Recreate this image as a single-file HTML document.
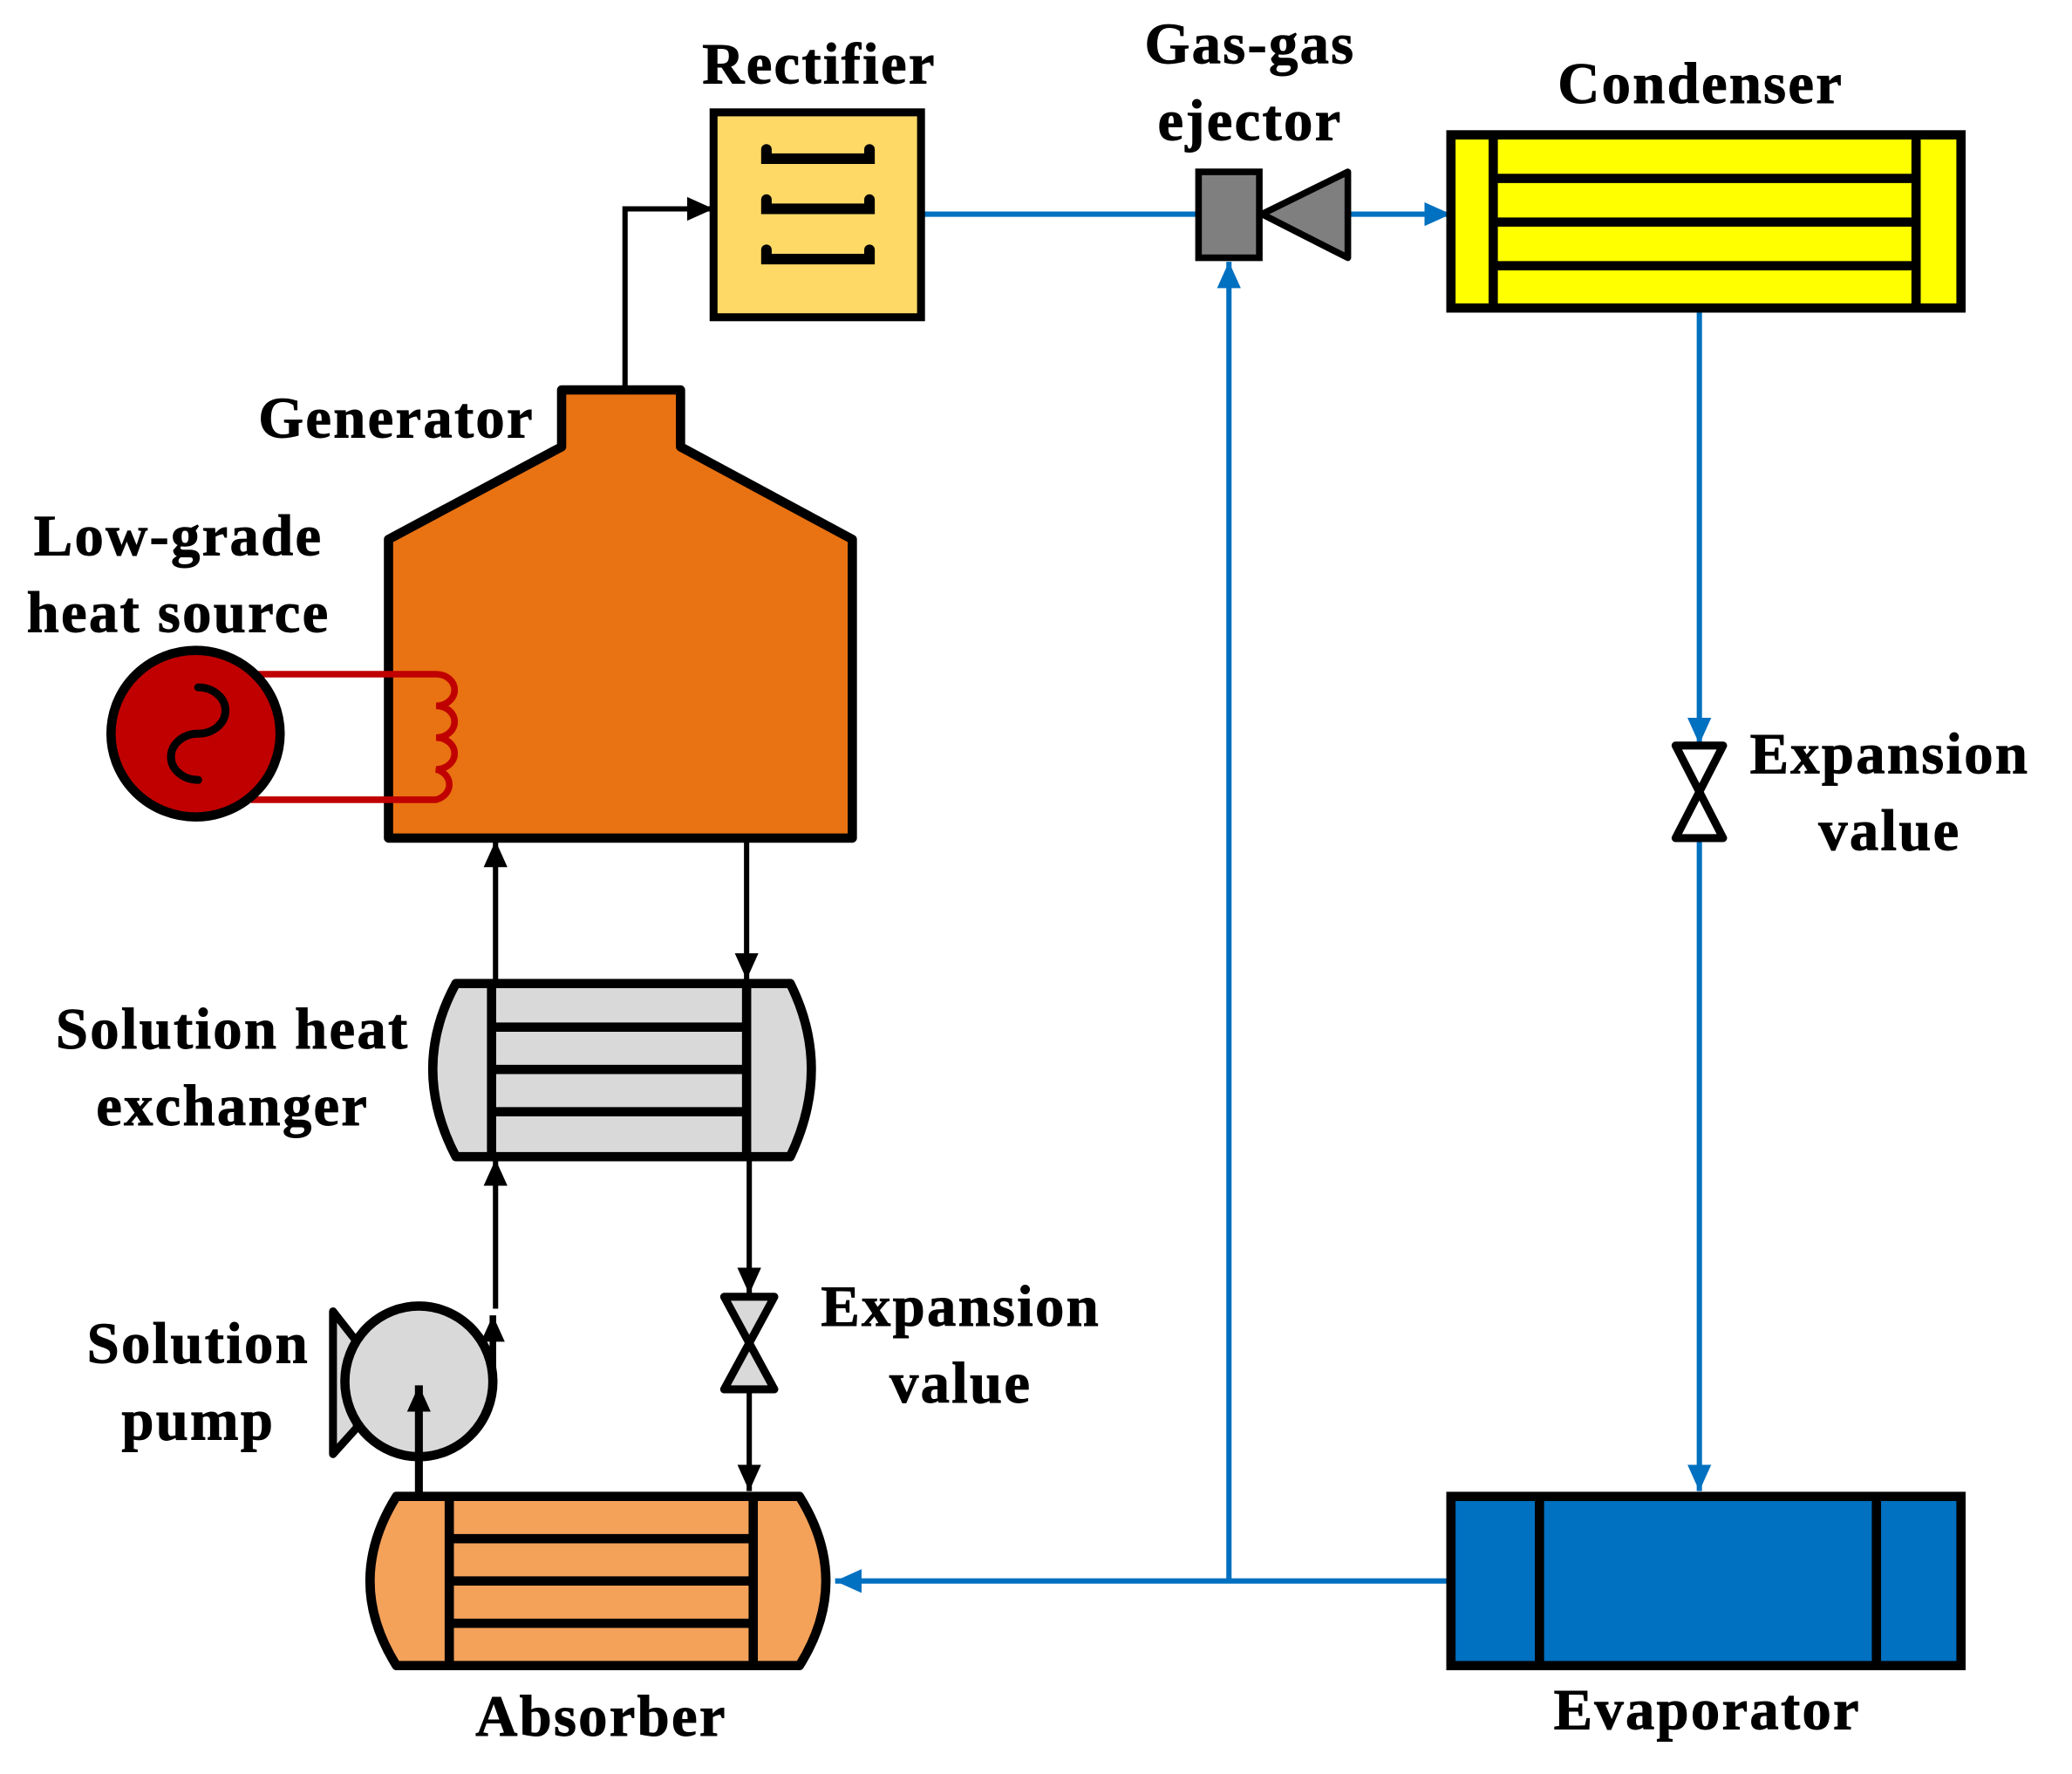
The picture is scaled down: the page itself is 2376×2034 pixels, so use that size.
<!DOCTYPE html>
<html><head><meta charset="utf-8"><style>html,body{margin:0;padding:0;background:#fff}svg{display:block}text{font-family:"Liberation Serif",serif;font-weight:bold;font-size:44px;letter-spacing:1.5px;text-anchor:middle;fill:#000;stroke:#000;stroke-width:0.6px}</style></head><body>
<svg width="2376" height="2034" viewBox="0 0 1568 1342" preserveAspectRatio="none" xmlns="http://www.w3.org/2000/svg">
<defs>
<marker id="bb" markerWidth="20" markerHeight="18" refX="20" refY="9" orient="auto" markerUnits="userSpaceOnUse"><path d="M0,0 L20,9 L0,18z" fill="#0070C0"/></marker>
<marker id="kb" markerWidth="20" markerHeight="18" refX="20" refY="9" orient="auto" markerUnits="userSpaceOnUse"><path d="M0,0 L20,9 L0,18z" fill="#000"/></marker>
</defs>
<g stroke="#0070C0" stroke-width="4" fill="none">
<line x1="697" y1="162" x2="907" y2="162"/>
<line x1="1020" y1="162" x2="1098" y2="162" marker-end="url(#bb)"/>
<line x1="1286" y1="233" x2="1286" y2="563" marker-end="url(#bb)"/>
<line x1="1286" y1="635" x2="1286" y2="1128" marker-end="url(#bb)"/>
<line x1="1098" y1="1196" x2="632" y2="1196" marker-end="url(#bb)"/>
<line x1="930" y1="1196" x2="930" y2="198" marker-end="url(#bb)"/>
</g>
<g stroke="#000" stroke-width="4" fill="none">
<polyline points="473,295 473,158 540,158" marker-end="url(#kb)"/>
<line x1="375" y1="744" x2="375" y2="636" marker-end="url(#kb)"/>
<line x1="565" y1="636" x2="565" y2="741" marker-end="url(#kb)"/>
<line x1="375" y1="990" x2="375" y2="877" marker-end="url(#kb)"/>
<line x1="567" y1="875" x2="567" y2="979" marker-end="url(#kb)"/>
<line x1="567" y1="1052" x2="567" y2="1128" marker-end="url(#kb)"/>
</g>
<rect x="540" y="85" width="157" height="155" fill="#FFD966" stroke="#000" stroke-width="6"/>
<g stroke="#000" stroke-width="8" fill="none" stroke-linecap="round">
<path d="M580,113 V120 H658 V113"/><path d="M580,151 V158 H658 V151"/><path d="M580,189 V196 H658 V189"/>
</g>
<text x="620" y="63">Rectifier</text>
<rect x="907" y="130" width="46" height="65" fill="#7F7F7F" stroke="#000" stroke-width="5"/>
<path d="M955,162 L1020,130 L1020,195z" fill="#7F7F7F" stroke="#000" stroke-width="5" stroke-linejoin="round"/>
<text x="946" y="48">Gas-gas</text><text x="946" y="106">ejector</text>
<rect x="1098" y="102" width="386" height="131" fill="#FFFF00" stroke="#000" stroke-width="7"/>
<g stroke="#000" stroke-width="7"><line x1="1130" y1="102" x2="1130" y2="233"/><line x1="1450" y1="102" x2="1450" y2="233"/>
<line x1="1130" y1="135" x2="1450" y2="135"/><line x1="1130" y1="168" x2="1450" y2="168"/><line x1="1130" y1="201" x2="1450" y2="201"/></g>
<text x="1287" y="78">Condenser</text>
<path d="M1268,564 L1304,564 L1268,634 L1304,634z" fill="#fff" stroke="#000" stroke-width="6" stroke-linejoin="round"/>
<text x="1430" y="585">Expansion</text><text x="1430" y="643">value</text>
<rect x="1098" y="1132" width="386" height="128" fill="#0070C0" stroke="#000" stroke-width="7"/>
<g stroke="#000" stroke-width="7"><line x1="1165" y1="1132" x2="1165" y2="1260"/><line x1="1420" y1="1132" x2="1420" y2="1260"/></g>
<text x="1292" y="1308">Evaporator</text>
<path d="M425,295 L515,295 L515,338 L645,408 L645,634 L294,634 L294,408 L425,338z" fill="#E97212" stroke="#000" stroke-width="7" stroke-linejoin="round"/>
<text x="300" y="331">Generator</text>
<path d="M190,510 H330 a14,12 0 0 1 0,24 a14,12 0 0 1 0,24 a14,12 0 0 1 0,24 a14,12 0 0 1 0,23 H190" fill="none" stroke="#C00000" stroke-width="5"/>
<ellipse cx="148" cy="555" rx="64" ry="63" fill="#C00000" stroke="#000" stroke-width="7"/>
<path d="M150,520 a20,17 0 0 1 0,35 a20,17 0 0 0 0,35" fill="none" stroke="#000" stroke-width="6" stroke-linecap="round"/>
<text x="135" y="420">Low-grade</text><text x="135" y="478">heat source</text>
<path d="M345,744 H598 Q630,808 598,875 H345 Q310,808 345,744z" fill="#D9D9D9" stroke="#000" stroke-width="7" stroke-linejoin="round"/>
<g stroke="#000" stroke-width="7"><line x1="372" y1="744" x2="372" y2="875"/><line x1="565" y1="744" x2="565" y2="875"/>
<line x1="372" y1="777" x2="565" y2="777"/><line x1="372" y1="809" x2="565" y2="809"/><line x1="372" y1="841" x2="565" y2="841"/></g>
<text x="176" y="793">Solution heat</text><text x="176" y="851">exchanger</text>
<path d="M252,992 L270,1015 L270,1080 L252,1100z" fill="#D9D9D9" stroke="#000" stroke-width="6" stroke-linejoin="round"/>
<line x1="373" y1="1045" x2="373" y2="995" stroke="#000" stroke-width="5" marker-end="url(#kb)"/>
<ellipse cx="317" cy="1045" rx="56" ry="57" fill="#D9D9D9" stroke="#000" stroke-width="7"/>
<line x1="317" y1="1132" x2="317" y2="1048" stroke="#000" stroke-width="6" marker-end="url(#kb)"/>
<text x="150" y="1031">Solution</text><text x="150" y="1089">pump</text>
<path d="M548,981 L586,981 L548,1051 L586,1051z" fill="#D9D9D9" stroke="#000" stroke-width="6" stroke-linejoin="round"/>
<text x="727" y="1003">Expansion</text><text x="727" y="1061">value</text>
<path d="M300,1132 H605 Q645,1196 605,1260 H300 Q260,1196 300,1132z" fill="#F4A15A" stroke="#000" stroke-width="7" stroke-linejoin="round"/>
<g stroke="#000" stroke-width="7"><line x1="340" y1="1132" x2="340" y2="1260"/><line x1="570" y1="1132" x2="570" y2="1260"/>
<line x1="340" y1="1164" x2="570" y2="1164"/><line x1="340" y1="1196" x2="570" y2="1196"/><line x1="340" y1="1228" x2="570" y2="1228"/></g>
<text x="455" y="1313">Absorber</text>
</svg>
</body></html>
